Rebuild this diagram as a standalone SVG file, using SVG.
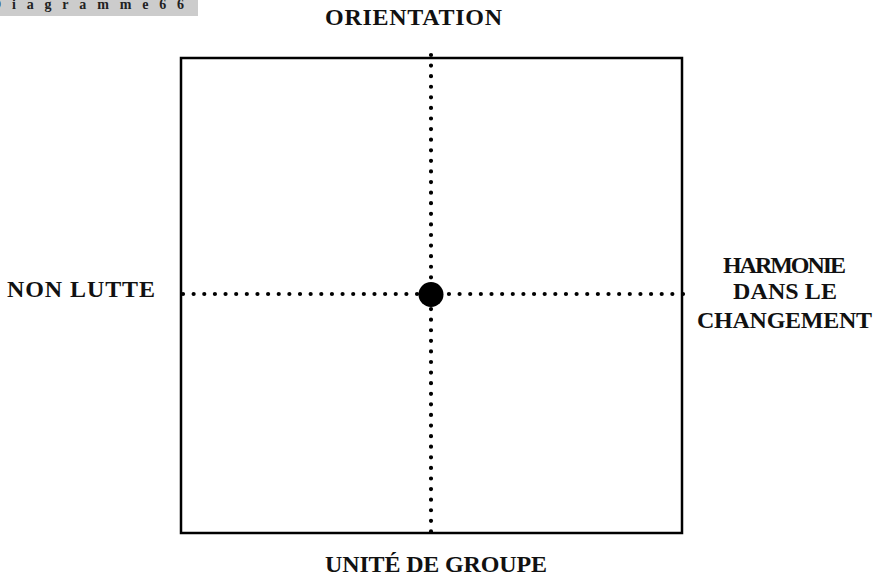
<svg xmlns="http://www.w3.org/2000/svg" width="878" height="576" viewBox="0 0 878 576">
<style>
.lbl{font-family:"Liberation Serif","Times New Roman",serif;font-weight:bold;font-size:24px;fill:#111}
.hdr{font-family:"Liberation Serif","Times New Roman",serif;font-weight:bold;font-size:14px;fill:#222}
.dots{fill:none;stroke:#000;stroke-width:4.2;stroke-linecap:round}
</style>
<rect x="0" y="0" width="198" height="16" fill="#cccccc"/>
<text class="hdr" x="-9" y="9" textLength="193" lengthAdjust="spacing">Diagramme66</text>
<g id="frame"><rect x="181" y="58" width="501" height="475" fill="none" stroke="#000" stroke-width="2.5"/></g>
<g id="connectors">
<path class="dots" d="M431 55 V542" stroke-dasharray="0 10.587"/>
<path class="dots" d="M183 294 H683" stroke-dasharray="0 10.638"/>
</g>
<g id="center"><circle cx="431" cy="294.5" r="12.5" fill="#000"/></g>
<g id="top"><text class="lbl" x="325" y="25" textLength="177" lengthAdjust="spacing">ORIENTATION</text></g>
<g id="left"><text class="lbl" x="7" y="297" textLength="148" lengthAdjust="spacing">NON LUTTE</text></g>
<g id="right">
<text class="lbl" x="723" y="273" textLength="123" lengthAdjust="spacing">HARMONIE</text>
<text class="lbl" x="733" y="299" textLength="104" lengthAdjust="spacing">DANS  LE</text>
<text class="lbl" x="697" y="328" textLength="175" lengthAdjust="spacing">CHANGEMENT</text>
</g>
<g id="bottom"><text class="lbl" x="325" y="572" textLength="222" lengthAdjust="spacing">UNITÉ DE GROUPE</text></g>
</svg>
